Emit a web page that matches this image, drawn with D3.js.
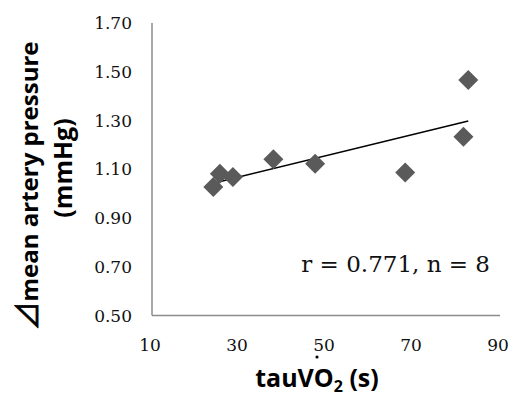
<!DOCTYPE html>
<html lang="en">
<head>
    <meta charset="UTF-8">
    <title>tauVO2 vs mean artery pressure</title>
    <script src="https://d3js.org/d3.v7.min.js"></script>
    <style>
        body { margin: 0; background: #fff; }
        svg { display: block; }
    </style>
</head>
<body>
    <div id="chart"></div>
    <script>
        // values
        const tauVO2 = [24.1, 25.6, 28.6, 37.9, 47.5, 68.2, 81.6, 82.7];
        const deltaMAP = [1.027, 1.082, 1.068, 1.141, 1.123, 1.087, 1.233, 1.466];
        const xTicks = [10, 30, 50, 70, 90];
        const yTicks = [0.5, 0.7, 0.9, 1.1, 1.3, 1.5, 1.7];
        const statText = "r = 0.771, n = 8";

        const width = 513, height = 396;
        const svg = d3.select("#chart").append("svg")
            .attr("width", width)
            .attr("height", height);

        const x = d3.scaleLinear().domain([10, 90]).range([152, 500]);
        const y = d3.scaleLinear().domain([0.5, 1.7]).range([315.5, 23]);

        const serif = "'DejaVu Serif', serif";
        const sans = "'Open Sans', 'Noto Sans', sans-serif";

        // axis lines (no tick marks)
        svg.append("line")
            .attr("x1", x(10)).attr("x2", x(10))
            .attr("y1", y(1.7)).attr("y2", y(0.5))
            .attr("stroke", "#8c8c8c").attr("stroke-width", 1.5);
        svg.append("line")
            .attr("x1", x(10)).attr("x2", x(90))
            .attr("y1", y(0.5)).attr("y2", y(0.5))
            .attr("stroke", "#8c8c8c").attr("stroke-width", 1.5);

        svg.append("g").selectAll("text")
            .data(yTicks)
            .join("text")
            .attr("x", 132)
            .attr("y", d => y(d))
            .attr("dy", "0.36em")
            .attr("text-anchor", "end")
            .attr("font-family", serif)
            .attr("font-size", 17)
            .attr("fill", "#111")
            .text(d => d3.format(".2f")(d));

        svg.append("g").selectAll("text")
            .data(xTicks)
            .join("text")
            .attr("x", d => x(d) - 2)
            .attr("y", 351)
            .attr("text-anchor", "middle")
            .attr("font-family", serif)
            .attr("font-size", 17)
            .attr("fill", "#111")
            .text(d => d);

        // stray dot under the 50 label
        svg.append("circle")
            .attr("cx", x(50) - 9).attr("cy", 357).attr("r", 1.6)
            .attr("fill", "#000");

        // linear trend line (least squares)
        const mx = d3.mean(tauVO2), my = d3.mean(deltaMAP);
        const sxy = d3.sum(tauVO2, (v, i) => (v - mx) * (deltaMAP[i] - my));
        const sxx = d3.sum(tauVO2, v => (v - mx) * (v - mx));
        const slope = sxy / sxx, icpt = my - slope * mx;
        const [x0, x1] = d3.extent(tauVO2);
        svg.append("line")
            .attr("x1", x(x0)).attr("y1", y(icpt + slope * x0))
            .attr("x2", x(x1)).attr("y2", y(icpt + slope * x1))
            .attr("stroke", "#000").attr("stroke-width", 1.5);

        // diamond markers
        const diamond = d3.symbol(d3.symbolSquare, 200);
        svg.append("g").selectAll("path")
            .data(tauVO2.map((v, i) => [v, deltaMAP[i]]))
            .join("path")
            .attr("d", diamond)
            .attr("transform", d => `translate(${x(d[0])},${y(d[1])}) rotate(45)`)
            .attr("fill", "#5a5a5a");

        svg.append("text")
            .attr("x", 490)
            .attr("y", 272)
            .attr("text-anchor", "end")
            .attr("font-family", serif)
            .attr("font-size", 23)
            .attr("fill", "#111")
            .text(statText);

        // x title
        const xt = svg.append("text")
            .attr("x", 317)
            .attr("y", 387)
            .attr("text-anchor", "middle")
            .attr("font-family", sans)
            .attr("font-weight", "bold")
            .attr("font-size", 25)
            .attr("fill", "#000");
        xt.append("tspan").text("tauVO");
        xt.append("tspan").attr("font-size", 16).attr("dy", 5).text("2");
        xt.append("tspan").attr("dy", -5).text(" (s)");

        // y title, two lines
        const yt = svg.append("text")
            .attr("transform", "translate(38,186) rotate(-90)")
            .attr("text-anchor", "middle")
            .attr("font-family", sans)
            .attr("font-weight", "bold")
            .attr("font-size", 24)
            .attr("fill", "#000");
        yt.append("tspan")
            .attr("font-family", "'Noto Sans CJK JP', 'DejaVu Sans', sans-serif")
            .attr("font-weight", "normal")
            .attr("font-size", 29)
            .attr("stroke", "#000")
            .attr("stroke-width", 0.8)
            .text("\u22BF");
        yt.append("tspan").text("mean artery pressure");
        svg.append("text")
            .attr("transform", "translate(72,168) rotate(-90)")
            .attr("text-anchor", "middle")
            .attr("font-family", sans)
            .attr("font-weight", "bold")
            .attr("font-size", 25)
            .attr("fill", "#000")
            .text("(mmHg)");
    </script>
</body>
</html>
